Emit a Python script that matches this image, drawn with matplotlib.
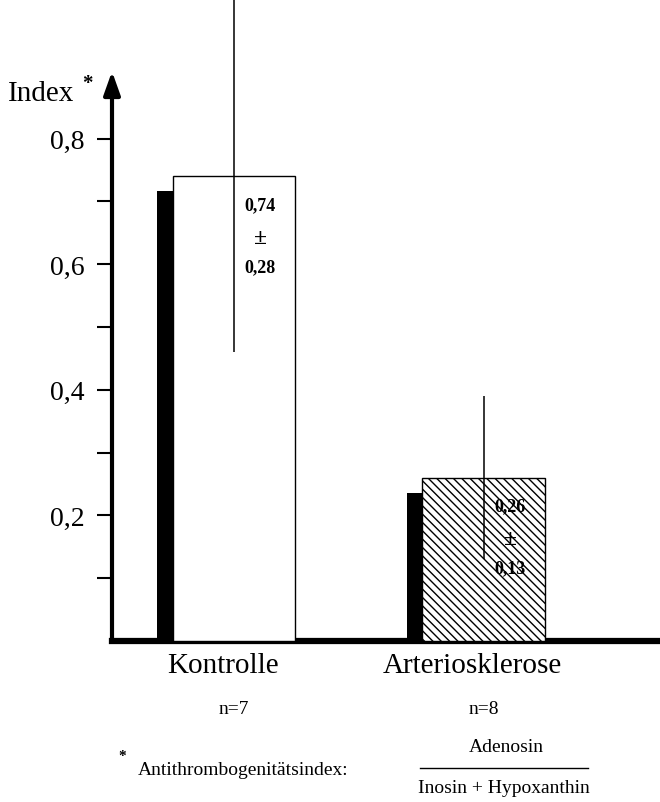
import matplotlib
matplotlib.use('Agg')
import matplotlib.pyplot as plt
from matplotlib.lines import Line2D
import numpy as np

plt.rcParams['font.family'] = ['Liberation Serif', 'DejaVu Serif']
plt.rcParams['hatch.linewidth'] = 1.0

# Data
groups = ["Kontrolle", "Arteriosklerose"]
group_n = ["n=7", "n=8"]
means = [0.74, 0.26]
sds = [0.28, 0.13]
mean_labels = ["0,74", "0,26"]
sd_labels = ["0,28", "0,13"]
major_ticks = [0.2, 0.4, 0.6, 0.8]
major_labels = ["0,2", "0,4", "0,6", "0,8"]
minor_ticks = [0.1, 0.3, 0.5, 0.7]

fig = plt.figure(figsize=(6.6, 8.03), dpi=100)
ax = fig.add_axes([112 / 660, 161 / 803, 548 / 660, 642 / 803])

x = np.arange(len(groups))
m = np.array(means)
s = np.array(sds)
width = 0.49
shadow_w = 0.062
shadow_drop = 0.024

# black "shadow" bars behind the front bars
ax.bar(x - width / 2 - shadow_w / 2, m - shadow_drop, width=shadow_w,
       color='black', zorder=2)
ax.bar(x[0], m[0], width=width, color='white', edgecolor='black',
       linewidth=1, zorder=3)
ax.bar(x[1], m[1], width=width, color='white', edgecolor='black',
       linewidth=1, hatch='\\\\\\\\', zorder=3)

# SD lines
ax.vlines(x, m - s, m + s, color='black', lw=1.1, zorder=4, clip_on=False)

for i in range(len(groups)):
    ax.text(x[i] + 0.105, m[i] - 0.045, mean_labels[i], ha='center',
            va='center', fontsize=13, fontweight='bold', zorder=5)
    ax.text(x[i] + 0.108, m[i] - 0.097, "±", ha='center', va='center',
            fontsize=17, fontweight='bold', zorder=5)
    ax.text(x[i] + 0.105, m[i] - 0.144, sd_labels[i], ha='center',
            va='center', fontsize=13, fontweight='bold', zorder=5)
    ax.text(x[i], -0.108, group_n[i], ha='center', va='center',
            fontsize=14, clip_on=False)

ax.set_xlim(-0.489, 1.707)
ax.set_ylim(0, 642 / 628)

ax.set_yticks(major_ticks, major_labels)
ax.set_yticks(minor_ticks, minor=True)
ax.tick_params(axis='y', which='both', direction='out', length=11,
               width=1.5, labelsize=20, pad=9)
ax.set_xticks(x - 0.045, groups)
ax.tick_params(axis='x', length=0, labelsize=21, pad=8)

for side in ['top', 'right', 'left']:
    ax.spines[side].set_visible(False)
ax.spines['bottom'].set_linewidth(4.5)

# y axis with arrow head
ax.annotate('', xy=(0, 0.907), xycoords=('axes fraction', 'data'),
            xytext=(0, 0), textcoords=('axes fraction', 'data'),
            arrowprops=dict(arrowstyle='-|>,head_length=0.7,head_width=0.25',
                            color='black', lw=3, shrinkA=0, shrinkB=0,
                            mutation_scale=20),
            annotation_clip=False)

fig.text(8 / 660, 1 - 94 / 803, "Index", fontsize=21, ha='left', va='center')
fig.text(87 / 660, 1 - 84 / 803, "*", fontsize=15, fontweight='bold',
         ha='center', va='center')

# footnote
fig.text(122 / 660, 1 - 757 / 803, "*", fontsize=11, fontweight='bold',
         ha='center', va='center')
fig.text(138 / 660, 1 - 771 / 803, "Antithrombogenitätsindex:", fontsize=14,
         ha='left', va='center')
fig.text(506 / 660, 1 - 748 / 803, "Adenosin", fontsize=14, ha='center',
         va='center')
fig.add_artist(Line2D([420 / 660, 588 / 660], [1 - 769 / 803] * 2,
                      color='black', lw=1))
fig.text(504 / 660, 1 - 789 / 803, "Inosin + Hypoxanthin", fontsize=14,
         ha='center', va='center')

fig.savefig('out.png', dpi=100)
plt.close(fig)
